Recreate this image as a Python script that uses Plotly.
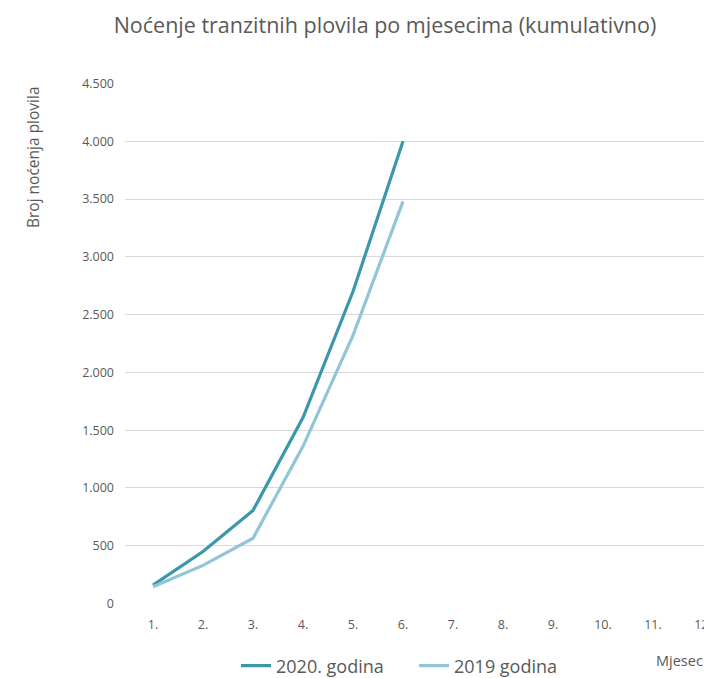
import plotly.graph_objects as go

# podaci (kumulativno)
mjeseci = [1, 2, 3, 4, 5, 6]
nocenja_2020 = [160, 450, 805, 1610, 2700, 4000]
nocenja_2019 = [145, 330, 565, 1360, 2320, 3480]

x_tickvals = list(range(1, 13))
x_ticktext = ["1.", "2.", "3.", "4.", "5.", "6.", "7.", "8.", "9.", "10.", "11.", "12."]
y_tickvals = [0, 500, 1000, 1500, 2000, 2500, 3000, 3500, 4000, 4500]
y_ticktext = ["0", "500", "1.000", "1.500", "2.000", "2.500", "3.000", "3.500", "4.000", "4.500"]

grey = "#595959"
font = "Open Sans"

fig = go.Figure()
fig.add_trace(go.Scatter(x=mjeseci, y=nocenja_2020, mode="lines", name="2020. godina",
                         line=dict(color="#3A97AC", width=3.2)))
fig.add_trace(go.Scatter(x=mjeseci, y=nocenja_2019, mode="lines", name="2019 godina",
                         line=dict(color="#92C5D5", width=3.2)))

fig.update_layout(
    width=704, height=678,
    margin=dict(l=125, r=0, t=83, b=74, autoexpand=False),
    paper_bgcolor="white", plot_bgcolor="white",
    font=dict(family=font, color=grey, size=12),
    title=dict(text="Noćenje tranzitnih plovila po mjesecima (kumulativno)",
               x=385 / 704, xanchor="center", y=1 - 25 / 678, yanchor="middle",
               font=dict(size=21.5, color=grey, family=font)),
    showlegend=True,
    legend=dict(orientation="h", x=(236 - 125) / 579, xanchor="left",
                y=(604 - 666) / 521, yanchor="middle", entrywidth=133,
                font=dict(size=18, color=grey)),
)
fig.update_xaxes(range=[0.44, 12.02], tickvals=x_tickvals, ticktext=x_ticktext,
                 showgrid=False, zeroline=False, showline=False, ticklabeloverflow="allow",
                 automargin=False, tickfont=dict(size=12.5, color=grey), ticklabelstandoff=11)
fig.update_yaxes(range=[-4, 4504], tickvals=y_tickvals, ticktext=y_ticktext,
                 showgrid=True, gridcolor="#D9D9D9", gridwidth=1, zeroline=False,
                 showline=False, automargin=False,
                 tickfont=dict(size=12.5, color=grey), ticklabelstandoff=10)

fig.add_annotation(text="Broj noćenja plovila", textangle=-90, xref="paper", yref="paper",
                   x=(33 - 125) / 579, y=(604 - 157) / 521, xanchor="center", yanchor="middle",
                   showarrow=False, font=dict(size=15.5, color=grey))
fig.add_annotation(text="Mjesec", xref="paper", yref="paper",
                   x=(654 - 125) / 579, y=(604 - 660) / 521, xanchor="left", yanchor="middle",
                   showarrow=False, font=dict(size=14.5, color=grey))

# bez margina stranice i bez prelijevanja izvan prozora
js = (
    "document.documentElement.style.overflow='hidden';"
    "document.body.style.margin='0';document.body.style.overflow='hidden';"
)
fig.write_html("out.html", config={"displayModeBar": False}, post_script=js)
